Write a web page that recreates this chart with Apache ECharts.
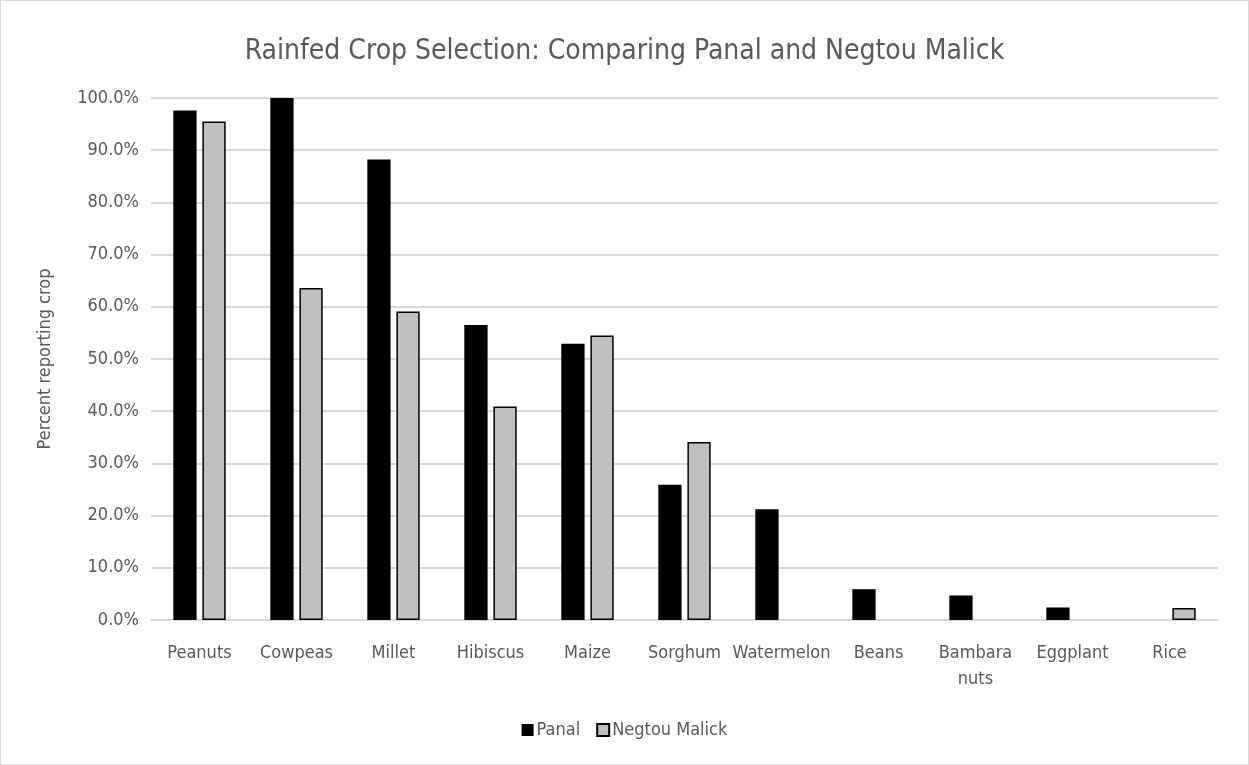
<!DOCTYPE html>
<html>
<head>
<meta charset="utf-8">
<script src="https://cdn.jsdelivr.net/npm/echarts@6/dist/echarts.min.js"></script>
<style>
  html, body { margin: 0; padding: 0; background: #fff; }
  #chart { width: 1247px; height: 763px; border: 1px solid #d9d9d9; }
</style>
</head>
<body>
<div id="chart"></div>
<script>
// crops along the x axis
var crops = ['Peanuts', 'Cowpeas', 'Millet', 'Hibiscus', 'Maize', 'Sorghum', 'Watermelon', 'Beans', 'Bambara\nnuts', 'Eggplant', 'Rice'];
// percent reporting crop
var panal = [97.6, 100, 88.2, 56.5, 52.9, 25.9, 21.2, 5.9, 4.7, 2.4, 0];
var negtouMalick = [95.5, 63.6, 59.1, 40.9, 54.5, 34.1, 0, 0, 0, 0, 2.3];

var font = '"Liberation Sans Narrow", "DejaVu Sans Condensed", sans-serif';
var textColor = '#595959';

// zero values draw no bar at all (no outline line on the axis)
function noZero(arr) {
  return arr.map(function (v) { return v === 0 ? '-' : v; });
}

var chart = echarts.init(document.getElementById('chart'));
chart.setOption({
  animation: false,
  textStyle: { fontFamily: font },
  title: {
    text: 'Rainfed Crop Selection: Comparing Panal and Negtou Malick',
    left: 'center',
    top: 32,
    textStyle: { fontFamily: font, fontSize: 28, fontWeight: 'normal', color: textColor }
  },
  legend: {
    bottom: 20,
    left: 'center',
    icon: 'rect',
    itemWidth: 12,
    itemHeight: 12,
    itemGap: 16,
    textStyle: { fontFamily: font, fontSize: 18, color: textColor, padding: [0, 0, 0, -2] },
    data: ['Panal', 'Negtou Malick']
  },
  grid: { left: 150, right: 30, top: 97, bottom: 144 },
  xAxis: {
    type: 'category',
    data: crops,
    axisLine: { lineStyle: { color: '#d9d9d9', width: 1 } },
    axisTick: { show: false },
    axisLabel: { fontFamily: font, fontSize: 18, color: textColor, margin: 20, interval: 0, lineHeight: 26, verticalAlign: 'top' }
  },
  yAxis: {
    type: 'value',
    min: 0,
    max: 100,
    interval: 10,
    name: 'Percent reporting crop',
    nameLocation: 'middle',
    nameGap: 97,
    nameTextStyle: { fontFamily: font, fontSize: 18, color: textColor },
    axisLine: { show: false },
    axisTick: { show: false },
    splitLine: { lineStyle: { color: '#d9d9d9', width: 2 } },
    axisLabel: {
      fontFamily: font, fontSize: 18, color: textColor, margin: 12,
      formatter: function (v) { return v.toFixed(1) + '%'; }
    }
  },
  series: [
    {
      name: 'Panal',
      type: 'bar',
      data: noZero(panal),
      barWidth: '24%',
      barGap: '25%',
      itemStyle: { color: '#000000' }
    },
    {
      name: 'Negtou Malick',
      type: 'bar',
      data: noZero(negtouMalick),
      barWidth: '24%',
      itemStyle: { color: '#bfbfbf', borderColor: '#000000', borderWidth: 1.5 }
    }
  ]
});
</script>
</body>
</html>
